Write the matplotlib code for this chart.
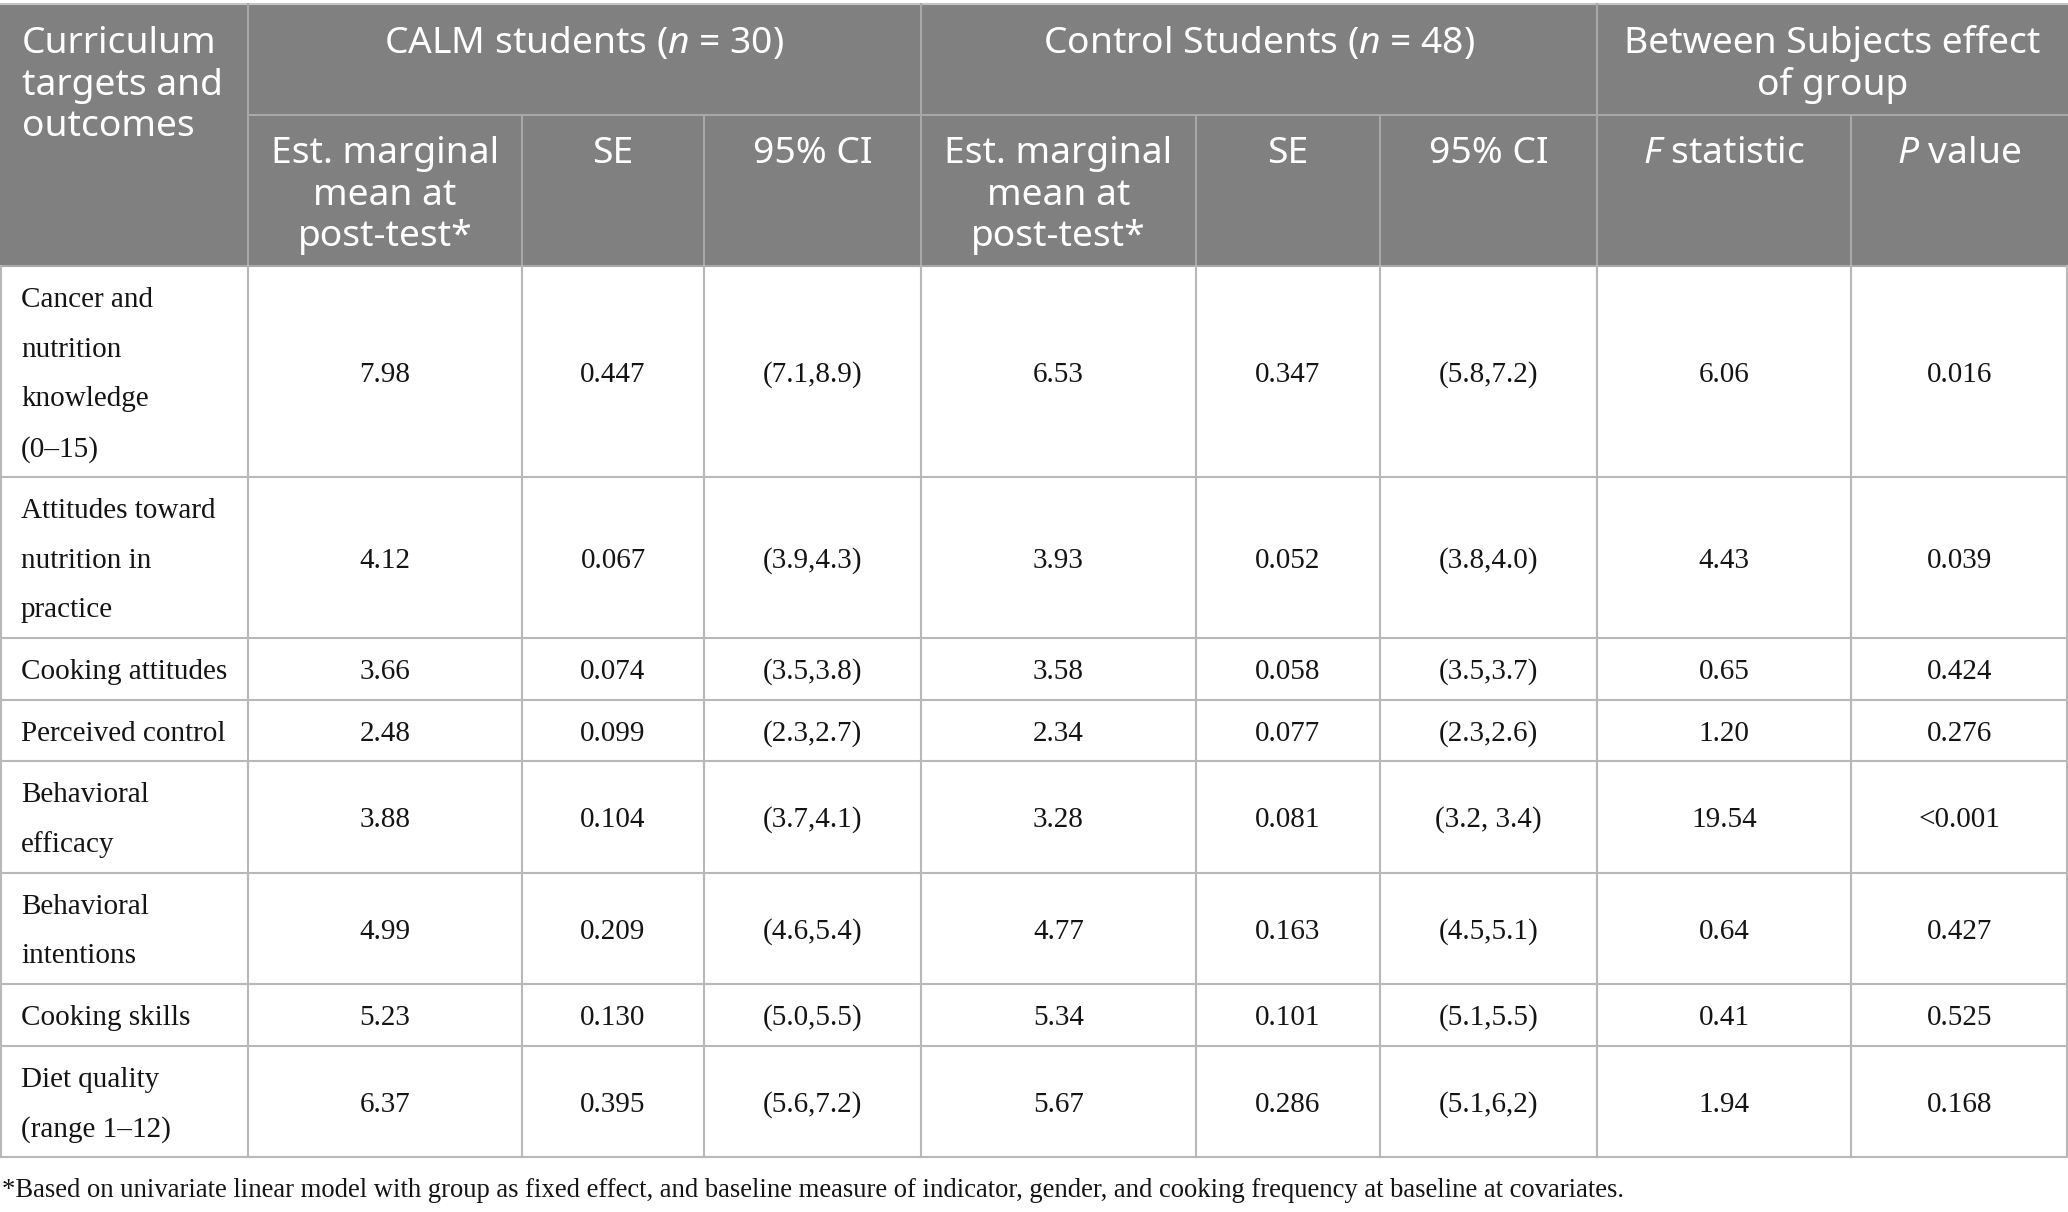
import matplotlib.pyplot as plt
from matplotlib.patches import Rectangle

plt.rcParams['mathtext.fontset'] = 'custom'
plt.rcParams['mathtext.rm'] = 'Noto Sans'
plt.rcParams['mathtext.it'] = 'Noto Sans:italic'

outcomes = ["Cancer and\nnutrition\nknowledge\n(0\u201315)",
            "Attitudes toward\nnutrition in\npractice",
            "Cooking attitudes",
            "Perceived control",
            "Behavioral\nefficacy",
            "Behavioral\nintentions",
            "Cooking skills",
            "Diet quality\n(range 1\u201312)"]
calm_mean = ["7.98", "4.12", "3.66", "2.48", "3.88", "4.99", "5.23", "6.37"]
calm_se = ["0.447", "0.067", "0.074", "0.099", "0.104", "0.209", "0.130", "0.395"]
calm_ci = ["(7.1,8.9)", "(3.9,4.3)", "(3.5,3.8)", "(2.3,2.7)", "(3.7,4.1)",
           "(4.6,5.4)", "(5.0,5.5)", "(5.6,7.2)"]
ctrl_mean = ["6.53", "3.93", "3.58", "2.34", "3.28", "4.77", "5.34", "5.67"]
ctrl_se = ["0.347", "0.052", "0.058", "0.077", "0.081", "0.163", "0.101", "0.286"]
ctrl_ci = ["(5.8,7.2)", "(3.8,4.0)", "(3.5,3.7)", "(2.3,2.6)", "(3.2, 3.4)",
           "(4.5,5.1)", "(5.1,5.5)", "(5.1,6,2)"]
f_stat = ["6.06", "4.43", "0.65", "1.20", "19.54", "0.64", "0.41", "1.94"]
p_val = ["0.016", "0.039", "0.424", "0.276", "<0.001", "0.427", "0.525", "0.168"]

group_heads = ["Curriculum\ntargets and\noutcomes", "CALM students ($n$ = 30)",
               "Control Students ($n$ = 48)", "Between Subjects effect\nof group"]
sub_heads = ["Est. marginal\nmean at\npost-test*", "SE", "95% CI",
             "Est. marginal\nmean at\npost-test*", "SE", "95% CI",
             "$F$ statistic", "$P$ value"]
footnote = ("*Based on univariate linear model with group as fixed effect, and baseline "
            "measure of indicator, gender, and cooking frequency at baseline at covariates.")

W, H = 2068, 1212
fig = plt.figure(figsize=(W / 100, H / 100), dpi=100)
ax = fig.add_axes([0, 0, 1, 1])
ax.set_xlim(0, W)
ax.set_ylim(H, 0)
ax.axis('off')

xs = [0, 248, 522, 704, 921, 1196, 1380, 1597, 1851, 2068]
head_top, head_mid, head_bot = 4, 115, 266
gray = '#808080'
hline = '#a8a8a8'
bline = '#b8b8b8'
sans = 'Noto Sans'
serif = 'Liberation Serif'
hsize = 26.8
bsize = 21
ink = '#141414'

# header block
ax.add_patch(Rectangle((0, head_top), W, head_bot - head_top, color=gray, lw=0))
ax.plot([0, W], [head_top, head_top], color='#c4c4c4', lw=1.5)
ax.plot([xs[1], W], [head_mid, head_mid], color=hline, lw=1.5)
ax.plot([0, W], [head_bot, head_bot], color=hline, lw=1.5)
for x in [248, 921, 1597]:
    ax.plot([x, x], [head_top, head_bot], color=hline, lw=1.5)
for x in [522, 704, 1196, 1380, 1851]:
    ax.plot([x, x], [head_mid, head_bot], color=hline, lw=1.5)

hstep = 41.7
def head_text(x, y0, s, ha='center'):
    for i, line in enumerate(s.split('\n')):
        ax.text(x, y0 + i * hstep, line, ha=ha, va='baseline', color='white',
                fontsize=hsize, family=sans)

head_text(22, 53, group_heads[0], ha='left')
head_text((248 + 921) / 2, 53, group_heads[1])
head_text((921 + 1597) / 2, 53, group_heads[2])
head_text((1597 + 2068) / 2, 53, group_heads[3])
for j, s in enumerate(sub_heads):
    head_text((xs[j + 1] + xs[j + 2]) / 2, 163, s)

# body
step = 49.8
cols = [calm_mean, calm_se, calm_ci, ctrl_mean, ctrl_se, ctrl_ci, f_stat, p_val]
y = head_bot
for r, name in enumerate(outcomes):
    lines = name.split('\n')
    n = len(lines)
    h = 11.8 + step * n
    yc = y + h / 2
    for i, line in enumerate(lines):
        ax.text(21, yc + 10 + (i - (n - 1) / 2) * step, line, ha='left', va='baseline',
                fontsize=bsize, family=serif, color=ink)
    for j, col in enumerate(cols):
        ax.text((xs[j + 1] + xs[j + 2]) / 2, yc + 10, col[r], ha='center', va='baseline',
                fontsize=bsize, family=serif, color=ink)
    y += h
    ax.plot([0, W], [y, y], color=bline, lw=1.5)
for x in xs:
    xx = min(max(x, 1), W - 1)
    ax.plot([xx, xx], [head_bot, y], color=bline, lw=1.5)

ax.text(2, 1197, footnote, ha='left', va='baseline', fontsize=19.2, family=serif,
        color=ink)

fig.savefig('out.png', dpi=100)
